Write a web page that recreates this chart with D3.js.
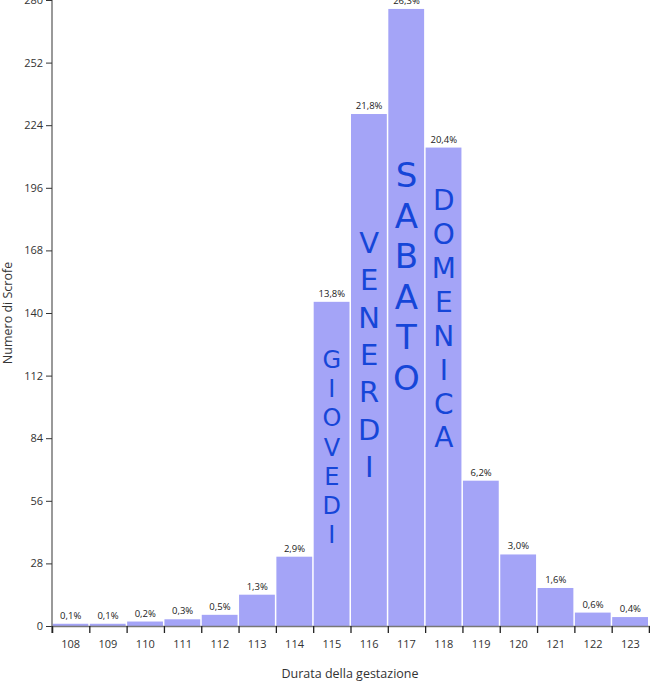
<!DOCTYPE html>
<html><head><meta charset="utf-8">
<script src="https://cdn.jsdelivr.net/npm/d3@7"></script>
<style>
html,body{margin:0;padding:0;background:#fff;}
svg{display:block;font-family:"Open Sans","Noto Sans",sans-serif;}
</style></head>
<body><svg id="c" width="650" height="683"></svg>
<script>
const categories = ["108","109","110","111","112","113","114","115","116","117","118","119","120","121","122","123"];
const counts = [1,1,2,3,5,14,31,145,229,276,214,65,32,17,6,4];
const pctLabels = ["0,1%","0,1%","0,2%","0,3%","0,5%","1,3%","2,9%","13,8%","21,8%","26,3%","20,4%","6,2%","3,0%","1,6%","0,6%","0,4%"];
const yTicks = [0,28,56,84,112,140,168,196,224,252,280];
const notes = [
  {cat:"115", word:"GIOVEDI"},
  {cat:"116", word:"VENERDI"},
  {cat:"117", word:"SABATO"},
  {cat:"118", word:"DOMENICA"}
];
const xTitle = "Durata della gestazione";
const yTitle = "Numero di Scrofe";

// layout (not data): where each handwritten word starts (y-axis value), letter step and size in px
const noteLayout = {
  "115":{start:115.4, step:29.2, size:24},
  "116":{start:166.8, step:37.3, size:29},
  "117":{start:196.4, step:40.6, size:34},
  "118":{start:186,   step:33.9, size:28}
};

const svg = d3.select("#c");
const L = 52, R = 649, B = 626, T = 0;
const x = d3.scaleBand().domain(categories).range([L, R]).padding(0);
const xb = d3.scaleLinear().domain([-0.5, categories.length - 0.5]).range([L, R]);
const y = d3.scaleLinear().domain([0, 280]).range([B, T]);

// bars
svg.append("g").selectAll("rect").data(categories).join("rect")
  .attr("x", d => x(d) + 0.5)
  .attr("width", x.bandwidth() - 1.5)
  .attr("y", (d,i) => y(counts[i]))
  .attr("height", (d,i) => B - y(counts[i]))
  .attr("fill", "#a4a4f7");

// value labels
svg.append("g").selectAll("text").data(categories).join("text")
  .attr("x", d => x(d) + x.bandwidth()/2)
  .attr("y", (d,i) => y(counts[i]) - 5)
  .attr("text-anchor","middle")
  .attr("font-size","9.5px")
  .attr("fill","#222")
  .text((d,i) => pctLabels[i]);

// y axis
const ya = svg.append("g").attr("transform",`translate(${L},0)`)
  .call(d3.axisLeft(y).tickValues(yTicks).tickSize(6).tickPadding(3));
ya.select(".domain").attr("stroke","#777").attr("stroke-width",1.5).attr("d",`M0,${T}V${B+7}`);
ya.selectAll(".tick line").attr("stroke","#333");
ya.selectAll(".tick text").attr("font-size","11px").attr("fill","#333").attr("font-family","Open Sans, sans-serif");

// x axis boundaries
const xa = svg.append("g").attr("transform",`translate(0,${B})`)
  .call(d3.axisBottom(xb).tickValues(d3.range(-0.5, categories.length, 1)).tickFormat("").tickSize(7));
xa.select(".domain").attr("stroke","#777").attr("stroke-width",1.5);
xa.selectAll(".tick line").attr("stroke","#222").attr("stroke-width",1.3);

const xl = svg.append("g").attr("transform",`translate(0,${B})`)
  .call(d3.axisBottom(x).tickSize(0).tickPadding(14));
xl.select(".domain").remove();
xl.selectAll(".tick text").attr("font-size","11px").attr("fill","#333").attr("font-family","Open Sans, sans-serif");

// titles
svg.append("text").attr("x", 350).attr("y", 678).attr("text-anchor","middle")
  .attr("font-size","12.5px").attr("fill","#333").text(xTitle);
svg.append("text").attr("transform",`translate(12,${(B+T)/2}) rotate(-90)`)
  .attr("text-anchor","middle").attr("font-size","12.5px").attr("fill","#333").text(yTitle);

// handwritten notes
const ng = svg.append("g");
notes.forEach(n => {
  const cx = x(n.cat) + x.bandwidth()/2;
  const lay = noteLayout[n.cat];
  const y0 = y(lay.start);
  n.word.split("").forEach((ch, k) => {
    ng.append("text")
      .attr("x", cx).attr("y", y0 + k*lay.step)
      .attr("text-anchor","middle")
      .attr("font-family","DejaVu Sans, sans-serif")
      .attr("font-size", lay.size + "px")
      .attr("fill","#1646d8")
      .text(ch);
  });
});
</script></body></html>
